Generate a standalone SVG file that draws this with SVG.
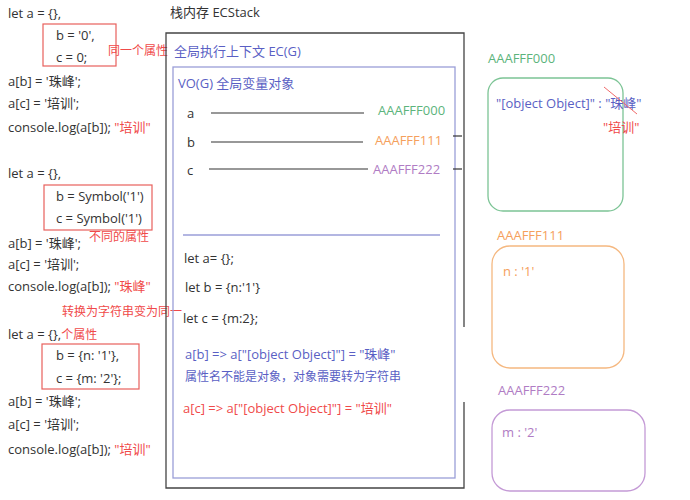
<svg xmlns="http://www.w3.org/2000/svg" width="690" height="500" viewBox="0 0 690 500">
<style>
text{font-family:"Open Sans","Noto Sans CJK SC",sans-serif;font-size:13px;fill:#333;dominant-baseline:central}
.s{font-size:12px}
.r{fill:#f04a4a}
.b{fill:#5a5fc4}
.g{fill:#5cb47c}
.o{fill:#f5a05c}
.p{fill:#b07cc4}
.rb{fill:none;stroke:#e8605c;stroke-width:1.2}
.ln{stroke:#333;stroke-width:1.2}
</style>
<rect width="690" height="500" fill="#fff"/>
<g id="code1">
<text x="8" y="13">let a = {},</text>
<rect class="rb" x="43" y="24" width="73" height="42"/>
<text x="56" y="35">b = '0',</text>
<text x="56" y="57">c = 0;</text>
<text class="r s" x="108" y="50">同一个属性</text>
<text x="8" y="81">a[b] = '珠峰';</text>
<text x="8" y="103">a[c] = '培训';</text>
<text x="8" y="127">console.log(a[b]); <tspan class="r">"培训"</tspan></text>
</g>
<g id="code2">
<text x="8" y="173">let a = {},</text>
<rect class="rb" x="44" y="185" width="108" height="45"/>
<text x="56" y="196">b = Symbol('1')</text>
<text x="56" y="218">c = Symbol('1')</text>
<text class="r s" x="89" y="236">不同的属性</text>
<text x="8" y="243">a[b] = '珠峰';</text>
<text x="8" y="264">a[c] = '培训';</text>
<text x="8" y="286">console.log(a[b]);  <tspan class="r">"珠峰"</tspan></text>
<text class="r s" x="62" y="311">转换为字符串变为同一</text>
</g>
<g id="code3">
<text x="8" y="334">let a = {},<tspan class="r s">个属性</tspan></text>
<rect class="rb" x="42" y="344" width="97" height="45"/>
<text x="56" y="355">b = {n: '1'},</text>
<text x="56" y="378">c = {m: '2'};</text>
<text x="8" y="401">a[b] = '珠峰';</text>
<text x="8" y="424">a[c] = '培训';</text>
<text x="8" y="449">console.log(a[b]); <tspan class="r">"培训"</tspan></text>
</g>
<g id="ecstack">
<text x="170" y="12">栈内存 ECStack</text>
<path d="M464,327 V33 H166 V488 H464 V402" fill="none" stroke="#444" stroke-width="1.3"/>
</g>
<g id="ecg">
<text class="b" x="174" y="51">全局执行上下文 EC(G)</text>
<rect x="173" y="67" width="282" height="411" fill="none" stroke="#9a9ed8" stroke-width="1.3"/>
</g>
<g id="vog">
<text class="b" x="178" y="83">VO(G) 全局变量对象</text>
<text x="187" y="113">a</text>
<text x="187" y="142">b</text>
<text x="187" y="170">c</text>
<text class="g" x="378" y="110">AAAFFF000</text>
<text class="o" x="375" y="140">AAAFFF111</text>
<text class="p" x="373" y="169">AAAFFF222</text>
<line x1="183" y1="235" x2="440" y2="235" stroke="#9a9ed8" stroke-width="1.3"/>
<text x="184" y="258">let a= {};</text>
<text x="185" y="287">let b = {n:'1'}</text>
<text x="183" y="318">let c = {m:2};</text>
<text class="b" x="185" y="354">a[b] =&gt; a["[object Object]"] = "珠峰"</text>
<text class="b s" x="185" y="376">属性名不能是对象，对象需要转为字符串</text>
<text class="r" x="183" y="408">a[c] =&gt; a["[object Object]"] = "培训"</text>
</g>
<g id="connectors">
<line class="ln" x1="211" y1="113" x2="364" y2="113"/>
<line class="ln" x1="211" y1="142" x2="363" y2="142"/>
<line class="ln" x1="209" y1="169" x2="368" y2="169"/>
<line class="ln" x1="453" y1="136" x2="462" y2="136"/>
<line class="ln" x1="453" y1="169" x2="462" y2="169"/>
</g>
<g id="heap000">
<text class="g" x="488" y="58">AAAFFF000</text>
<rect x="488" y="78" width="135" height="133" rx="15" fill="none" stroke="#7cc495" stroke-width="1.3"/>
<text class="b" x="496" y="103">"[object Object]" : "珠峰"</text>
<line x1="604" y1="87" x2="637" y2="114" stroke="#f06a6a" stroke-width="1"/>
<text class="r" x="603" y="127">"培训"</text>
</g>
<g id="heap111">
<text class="o" x="497" y="235">AAAFFF111</text>
<rect x="492" y="246" width="132" height="122" rx="18" fill="none" stroke="#f5b880" stroke-width="1.3"/>
<text class="o" x="503" y="271">n : '1'</text>
</g>
<g id="heap222">
<text class="p" x="498" y="390">AAAFFF222</text>
<rect x="492" y="410" width="153" height="81" rx="18" fill="none" stroke="#c49ad6" stroke-width="1.3"/>
<text class="p" x="502" y="432">m : '2'</text>
</g>
</svg>
